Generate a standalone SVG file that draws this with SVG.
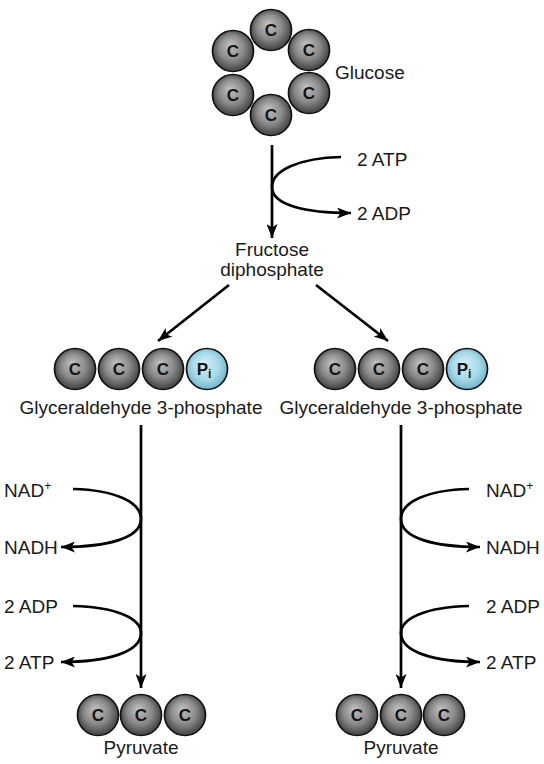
<svg xmlns="http://www.w3.org/2000/svg" width="544" height="764" viewBox="0 0 544 764">
<style>
.t{font-family:"Liberation Sans",Arial,sans-serif;font-size:19px;fill:#1a1a1a}
.m{text-anchor:middle}
.c{fill:url(#gc);stroke:#111;stroke-width:1.7}
.p{fill:url(#gp);stroke:#111;stroke-width:1.7}
.l{font-family:"Liberation Sans",Arial,sans-serif;font-size:17px;font-weight:bold;fill:#151515;text-anchor:middle}
.a{fill:none;stroke:#000;stroke-width:2.7;marker-end:url(#ah)}
</style>
<defs>
<radialGradient id="gc" cx="50%" cy="48%" r="55%" fx="42%" fy="35%">
<stop offset="0" stop-color="#c2c2c2"/>
<stop offset="0.55" stop-color="#8a8a8a"/>
<stop offset="0.9" stop-color="#4a4a4a"/>
<stop offset="1" stop-color="#666"/>
</radialGradient>
<radialGradient id="gp" cx="50%" cy="48%" r="55%" fx="42%" fy="35%">
<stop offset="0" stop-color="#d6f0f8"/>
<stop offset="0.6" stop-color="#a6d9e9"/>
<stop offset="1" stop-color="#6cafc6"/>
</radialGradient>
<marker id="ah" viewBox="0 0 14 11" refX="14" refY="5.5" markerWidth="14" markerHeight="11" markerUnits="userSpaceOnUse" orient="auto">
<path d="M0,0 L14,5.5 L0,11 L3.5,5.5 z" fill="#000"/>
</marker>
</defs>

<g id="connectors">
<line class="a" x1="272" y1="145" x2="272" y2="238"/>
<path class="a" d="M341,157 C300,158 272,170 272,187 C272,205 305,213 351,213"/>
<line class="a" x1="229" y1="285" x2="158" y2="341"/>
<line class="a" x1="316" y1="285" x2="388" y2="341"/>
<line class="a" x1="141" y1="425" x2="141" y2="688"/>
<line class="a" x1="401" y1="425" x2="401" y2="688"/>
<path class="a" d="M73,489 C115,490 141,502 141,519 C141,538 108,547 61,547"/>
<path class="a" d="M73,606 C115,607 141,618 141,633 C141,652 108,662 61,662"/>
<path class="a" d="M469,489 C427,490 401,502 401,519 C401,538 434,547 480,547"/>
<path class="a" d="M469,606 C427,607 401,618 401,633 C401,652 434,662 480,662"/>
</g>

<g id="glucose">
<circle class="c" cx="271" cy="30" r="20.5"/><text class="l" x="271" y="36">C</text>
<circle class="c" cx="233" cy="51" r="20.5"/><text class="l" x="233" y="57">C</text>
<circle class="c" cx="309" cy="50" r="20.5"/><text class="l" x="309" y="56">C</text>
<circle class="c" cx="233" cy="95" r="20.5"/><text class="l" x="233" y="101">C</text>
<circle class="c" cx="309" cy="93" r="20.5"/><text class="l" x="309" y="99">C</text>
<circle class="c" cx="271" cy="115" r="20.5"/><text class="l" x="271" y="121">C</text>
<text class="t" x="335" y="79">Glucose</text>
</g>

<g id="atp-top">
<text class="t" x="357" y="166">2 ATP</text>
<text class="t" x="357" y="220">2 ADP</text>
</g>

<g id="fructose">
<text class="t m" x="272" y="256">Fructose</text>
<text class="t m" x="272" y="276">diphosphate</text>
</g>

<g id="g3p-left">
<circle class="c" cx="75" cy="369" r="20.5"/><text class="l" x="75" y="375">C</text>
<circle class="c" cx="119" cy="369" r="20.5"/><text class="l" x="119" y="375">C</text>
<circle class="c" cx="163" cy="369" r="20.5"/><text class="l" x="163" y="375">C</text>
<circle class="p" cx="207" cy="369" r="20.5"/><text class="l" x="204" y="375">P<tspan font-size="12" dy="3">i</tspan></text>
<text class="t m" x="141" y="414">Glyceraldehyde 3-phosphate</text>
</g>

<g id="g3p-right">
<circle class="c" cx="335" cy="369" r="20.5"/><text class="l" x="335" y="375">C</text>
<circle class="c" cx="379" cy="369" r="20.5"/><text class="l" x="379" y="375">C</text>
<circle class="c" cx="423" cy="369" r="20.5"/><text class="l" x="423" y="375">C</text>
<circle class="p" cx="467" cy="369" r="20.5"/><text class="l" x="464" y="375">P<tspan font-size="12" dy="3">i</tspan></text>
<text class="t m" x="401" y="414">Glyceraldehyde 3-phosphate</text>
</g>

<g id="left-labels">
<text class="t" x="4" y="497">NAD<tspan font-size="12" dy="-7">+</tspan></text>
<text class="t" x="4" y="554">NADH</text>
<text class="t" x="4" y="613">2 ADP</text>
<text class="t" x="4" y="669">2 ATP</text>
</g>

<g id="right-labels">
<text class="t" x="486" y="497">NAD<tspan font-size="12" dy="-7">+</tspan></text>
<text class="t" x="486" y="554">NADH</text>
<text class="t" x="486" y="613">2 ADP</text>
<text class="t" x="486" y="669">2 ATP</text>
</g>

<g id="pyruvate-left">
<circle class="c" cx="98" cy="715" r="20.5"/><text class="l" x="98" y="721">C</text>
<circle class="c" cx="141" cy="715" r="20.5"/><text class="l" x="141" y="721">C</text>
<circle class="c" cx="185" cy="715" r="20.5"/><text class="l" x="185" y="721">C</text>
<text class="t m" x="141" y="754">Pyruvate</text>
</g>

<g id="pyruvate-right">
<circle class="c" cx="357" cy="715" r="20.5"/><text class="l" x="357" y="721">C</text>
<circle class="c" cx="401" cy="715" r="20.5"/><text class="l" x="401" y="721">C</text>
<circle class="c" cx="444" cy="715" r="20.5"/><text class="l" x="444" y="721">C</text>
<text class="t m" x="401" y="754">Pyruvate</text>
</g>
</svg>
